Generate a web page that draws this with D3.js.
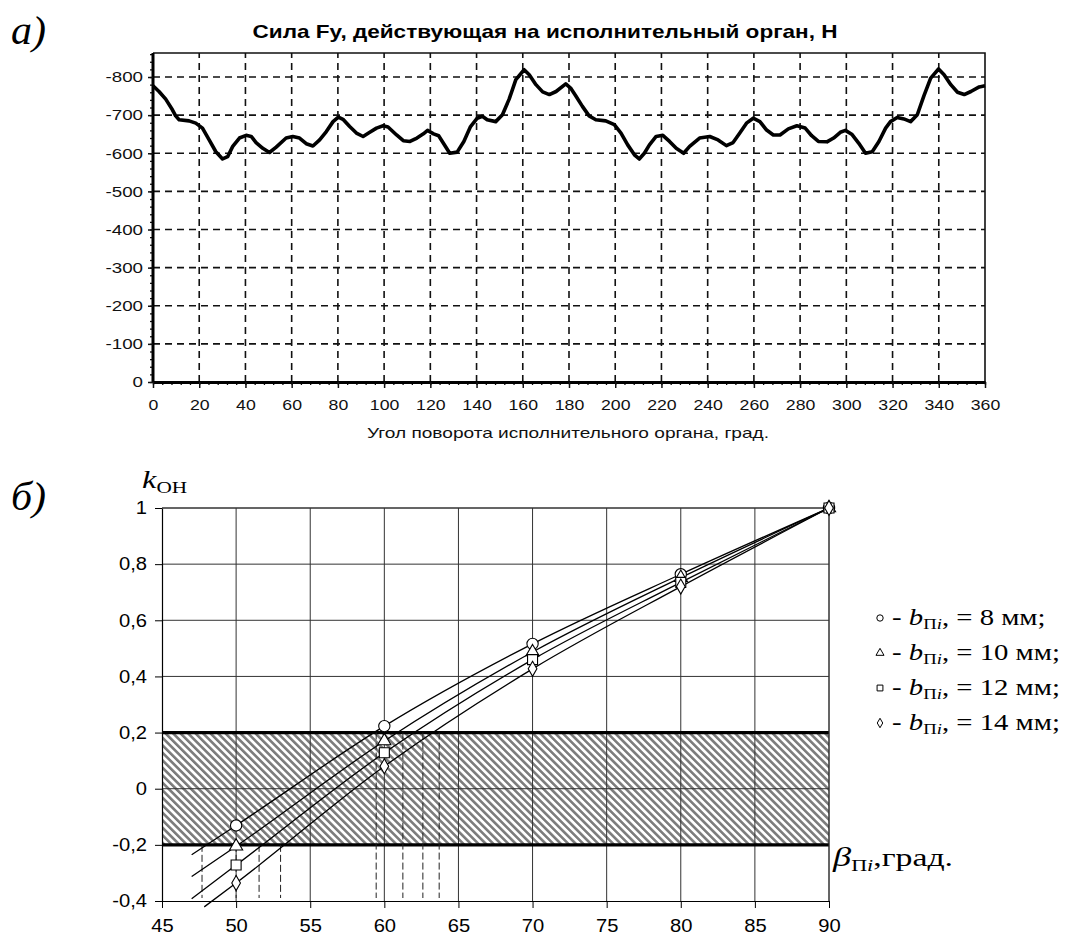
<!DOCTYPE html>
<html>
<head>
<meta charset="utf-8">
<script src="https://cdn.jsdelivr.net/npm/d3@7"></script>
<style>
  body { margin: 0; background: #fff; }
</style>
</head>
<body>
<script>
// ---- chart а): force Fy vs rotation angle
const angleA = [0, 2.6, 5.5, 8.4, 9.8, 11.3, 15.6, 18.5, 21.4, 24.3, 27.2, 30.1, 32.3, 34.5, 37.4, 40.3, 42.5, 44.6,
  47.5, 50.4, 53.3, 57.6, 60.5, 63.4, 66.3, 69.2, 72.1, 75, 77.9, 80.2, 82.2, 85.1, 88, 90.9, 93.8, 96.7, 99.6, 101.7,
  105.4, 108.3, 111.2, 114.2, 117, 118.8, 121.4, 123.6, 125.8, 128.4, 131.6, 134.5, 137.4, 140.3, 142.5, 144.6, 148.3,
  151.2, 154.1, 157, 160.6, 162.8, 165.7, 168.6, 171.5, 174.4, 178.6, 180.7, 182.9, 185.8, 188.7, 191.6, 195.9, 199.6,
  202.5, 205.4, 208.3, 210.4, 212.6, 214.8, 217.7, 220.6, 223.5, 226.4, 229.6, 232.2, 236.5, 240.9, 244.5, 248.1, 251,
  253.9, 256.8, 259.7, 262.6, 265.5, 268.4, 271.3, 274.9, 278.6, 282.2, 285, 287.9, 291.6, 294.5, 297.4, 299.6, 302.5,
  305.4, 308.3, 311.2, 314.1, 317, 319.1, 322, 324.9, 327.8, 330.7, 333.6, 336.5, 339.9, 342.3, 345.2, 348.1, 351,
  353.9, 357.5, 360];
const forceA = [-777, -762, -742, -714, -698, -688, -685, -679, -666, -635, -604, -585, -591, -618, -640, -647, -644, -628,
  -613, -602, -616, -640, -644, -640, -625, -619, -635, -657, -683, -695, -689, -670, -653, -644, -655, -666, -672, -669,
  -648, -633, -631, -640, -651, -660, -651, -646, -625, -600, -603, -631, -670, -692, -697, -688, -683,
  -701, -742, -793, -819, -806, -780, -761, -754, -762, -782, -771, -751, -723, -698, -688, -685, -675,
  -653, -622, -596, -585, -600, -622, -644, -647, -631, -613, -600, -618, -640, -644, -635, -620, -628,
  -653, -679, -692, -683, -661, -648, -648, -664, -672, -666, -646, -631, -630, -640, -655, -660, -649,
  -626, -600, -604, -631, -666, -683, -694, -690, -683, -701, -751, -797, -821, -806, -780, -760, -754,
  -762, -774, -777];
const forceTicks = [0, -100, -200, -300, -400, -500, -600, -700, -800];
const angleTicks = d3.range(0, 361, 20);

// ---- chart б): k_OH vs beta
const betaB = [50, 60, 70, 80, 90];
const k8 = [-0.131, 0.223, 0.516, 0.764, 1];
const k10 = [-0.205, 0.17, 0.487, 0.752, 1];
const k12 = [-0.272, 0.128, 0.46, 0.735, 1];
const k14 = [-0.336, 0.08, 0.427, 0.72, 1];
const widthsB = ['8', '10', '12', '14'];
const startBeta = [47, 47, 47, 47.85];
const startK = [-0.235, -0.313, -0.392, -0.421];
const lowCross = [47.7, 50.0, 51.55, 53.0];
const highCross = [59.45, 61.25, 62.6, 63.7];
const kTicks = [-0.4, -0.2, 0, 0.2, 0.4, 0.6, 0.8, 1];
const betaTicks = d3.range(45, 91, 5);
const band = [-0.2, 0.2];

const svg = d3.select('body').append('svg')
  .attr('width', 1070).attr('height', 937);

const sans = 'Liberation Sans, Arial, sans-serif';
const serif = 'Liberation Serif, Times New Roman, serif';

// the source picture is a bit wider than tall: widen text to match
function stretch(sel, k) {
  sel.each(function() {
    const w = this.getComputedTextLength();
    d3.select(this).attr('textLength', w * k).attr('lengthAdjust', 'spacingAndGlyphs');
  });
}
// text group placed at (x,y) and scaled horizontally
function wideText(parent, x, y, k) {
  return parent.append('g').attr('transform', `translate(${x},${y}) scale(${k},1)`).append('text');
}

// ================= chart а =================
const xA = d3.scaleLinear().domain([0, 360]).range([153, 985]);
const yA = d3.scaleLinear().domain([0, -863]).range([382, 53]);
const ga = svg.append('g');

wideText(ga, 11, 44, 1.05)
  .attr('font-family', serif).attr('font-style', 'italic').attr('font-size', 40)
  .text('а)');

ga.append('text').attr('x', 545).attr('y', 38).attr('text-anchor', 'middle')
  .attr('font-family', sans).attr('font-weight', 'bold').attr('font-size', 19)
  .attr('textLength', 585).attr('lengthAdjust', 'spacingAndGlyphs')
  .text('Сила Fy, действующая на исполнительный орган, Н');

// dashed grid
ga.append('g').selectAll('line').data(angleTicks.filter(d => d > 0 && d < 360)).join('line')
  .attr('x1', d => xA(d)).attr('x2', d => xA(d))
  .attr('y1', yA(0)).attr('y2', yA.range()[1])
  .attr('stroke', '#111').attr('stroke-width', 1.6).attr('stroke-dasharray', '7,5');
ga.append('g').selectAll('line').data(forceTicks.filter(d => d < 0)).join('line')
  .attr('x1', xA(0)).attr('x2', xA(360))
  .attr('y1', d => yA(d)).attr('y2', d => yA(d))
  .attr('stroke', '#111').attr('stroke-width', 1.6).attr('stroke-dasharray', '7,5');

// top and right frame
ga.append('path')
  .attr('d', `M${xA(0)},${yA.range()[1]}H${xA(360)}V${yA(0)}`)
  .attr('fill', 'none').attr('stroke', '#111').attr('stroke-width', 1.6);

// minor ticks
ga.append('g').attr('transform', `translate(0,${yA(0)})`)
  .call(d3.axisBottom(xA).tickValues(d3.range(0, 361, 4)).tickSize(3).tickSizeOuter(0).tickFormat(''))
  .call(g => g.select('.domain').remove())
  .selectAll('line').attr('stroke', '#111').attr('stroke-width', 1.3);
ga.append('g').attr('transform', `translate(${xA(0)},0)`)
  .call(d3.axisLeft(yA).tickValues(d3.range(0, -861, -20)).tickSize(3).tickSizeOuter(0).tickFormat(''))
  .call(g => g.select('.domain').remove())
  .selectAll('line').attr('stroke', '#111').attr('stroke-width', 1.3);

// main axes
const axA = ga.append('g').attr('transform', `translate(0,${yA(0)})`)
  .call(d3.axisBottom(xA).tickValues(angleTicks).tickSize(6).tickSizeOuter(0).tickPadding(11).tickFormat(d => d));
const ayA = ga.append('g').attr('transform', `translate(${xA(0)},0)`)
  .call(d3.axisLeft(yA).tickValues(forceTicks).tickSize(5).tickSizeOuter(0).tickPadding(5).tickFormat(d => String(d)));
[axA, ayA].forEach(g => {
  g.select('.domain').attr('stroke', '#000').attr('stroke-width', 3);
  g.selectAll('.tick line').attr('stroke', '#111').attr('stroke-width', 1.5);
  g.selectAll('text').attr('font-family', sans).attr('font-size', 15).attr('fill', '#111');
});
ayA.select('.domain').attr('d', `M0,${yA(0)}V${yA.range()[1]}`);
axA.selectAll('text').call(stretch, 1.18);
ayA.selectAll('text').call(stretch, 1.25);

ga.append('text').attr('x', 568).attr('y', 438).attr('text-anchor', 'middle')
  .attr('font-family', sans).attr('font-size', 15).attr('fill', '#111')
  .attr('textLength', 402).attr('lengthAdjust', 'spacingAndGlyphs')
  .text('Угол поворота исполнительного органа, град.');

ga.append('path')
  .datum(angleA.map((a, i) => [a, forceA[i]]))
  .attr('d', d3.line().x(d => xA(d[0])).y(d => yA(d[1])))
  .attr('fill', 'none').attr('stroke', '#000').attr('stroke-width', 3.6)
  .attr('stroke-linejoin', 'round');

// ================= chart б =================
const xB = d3.scaleLinear().domain([45, 90]).range([162, 829]);
const yB = d3.scaleLinear().domain([-0.4, 1]).range([901, 508]);
const gb = svg.append('g');

const defs = svg.append('defs');
const pat = defs.append('pattern').attr('id', 'hatch')
  .attr('patternUnits', 'userSpaceOnUse').attr('width', 5.3).attr('height', 5.3)
  .attr('patternTransform', 'rotate(-45)');
pat.append('rect').attr('width', 5.3).attr('height', 5.3).attr('fill', '#fff');
pat.append('rect').attr('width', 2.6).attr('height', 5.3).attr('fill', '#7c7c7c');

wideText(gb, 11, 510, 1.05)
  .attr('font-family', serif).attr('font-style', 'italic').attr('font-size', 40)
  .text('б)');

const kl = wideText(gb, 142, 488, 1.25).attr('font-family', serif).attr('font-size', 26);
kl.append('tspan').attr('font-style', 'italic').text('k');
kl.append('tspan').attr('font-size', 17).attr('dy', 5).text('OH');

// hatched band
gb.append('rect')
  .attr('x', xB(45)).attr('width', xB(90) - xB(45))
  .attr('y', yB(band[1])).attr('height', yB(band[0]) - yB(band[1]))
  .attr('fill', 'url(#hatch)');

// grid
gb.append('g').selectAll('line').data(betaTicks.filter(d => d > 45)).join('line')
  .attr('x1', d => xB(d)).attr('x2', d => xB(d))
  .attr('y1', yB(-0.4)).attr('y2', yB(1))
  .attr('stroke', '#333').attr('stroke-width', 1);
gb.append('g').selectAll('line').data(kTicks.filter(d => d > -0.4 && band.indexOf(d) < 0)).join('line')
  .attr('x1', xB(45)).attr('x2', xB(90))
  .attr('y1', d => yB(d)).attr('y2', d => yB(d))
  .attr('stroke', '#333').attr('stroke-width', 1);

// band limits
gb.append('g').selectAll('line').data(band).join('line')
  .attr('x1', xB(45)).attr('x2', xB(90))
  .attr('y1', d => yB(d)).attr('y2', d => yB(d))
  .attr('stroke', '#000').attr('stroke-width', 3.2);

// dashed drop lines at the crossings
gb.append('g').selectAll('line').data(lowCross).join('line')
  .attr('x1', d => xB(d)).attr('x2', d => xB(d))
  .attr('y1', yB(-0.2)).attr('y2', yB(-0.4) - 3)
  .attr('stroke', '#222').attr('stroke-width', 1).attr('stroke-dasharray', '7,3');
gb.append('g').selectAll('line').data(highCross).join('line')
  .attr('x1', d => xB(d)).attr('x2', d => xB(d))
  .attr('y1', yB(0.2)).attr('y2', yB(-0.4) - 3)
  .attr('stroke', '#222').attr('stroke-width', 1).attr('stroke-dasharray', '7,3');

// axes
const axB = gb.append('g').attr('transform', `translate(0,${yB(-0.4)})`)
  .call(d3.axisBottom(xB).tickValues(betaTicks).tickSize(7).tickSizeOuter(0).tickPadding(11).tickFormat(d => d));
const ayB = gb.append('g').attr('transform', `translate(${xB(45)},0)`)
  .call(d3.axisLeft(yB).tickValues(kTicks).tickSize(7).tickSizeOuter(0).tickPadding(8)
    .tickFormat(d => String(d).replace('.', ',')));
[axB, ayB].forEach(g => {
  g.select('.domain').attr('stroke', '#000').attr('stroke-width', 1.2);
  g.selectAll('.tick line').attr('stroke', '#000');
  g.selectAll('text').attr('font-family', sans).attr('font-size', 18).attr('fill', '#000');
});
axB.selectAll('text').call(stretch, 1.12);
ayB.selectAll('text').call(stretch, 1.12);
// top and right border
gb.append('path')
  .attr('d', `M${xB(45)},${yB(1)}H${xB(90)}V${yB(-0.4)}`)
  .attr('fill', 'none').attr('stroke', '#333').attr('stroke-width', 1);

// curves and markers
const seriesK = [k8, k10, k12, k14];
const symbols = [d3.symbolCircle, d3.symbolTriangle, d3.symbolSquare, d3.symbolDiamond];
const symSize = [100, 75, 100, 65];
const symSmall = [32, 28, 34, 26];
const curve = d3.line().x(d => xB(d[0])).y(d => yB(d[1])).curve(d3.curveMonotoneX);

seriesK.forEach((ks, i) => {
  const pts = [[startBeta[i], startK[i]]].concat(betaB.map((b, j) => [b, ks[j]]));
  gb.append('path').datum(pts).attr('d', curve)
    .attr('fill', 'none').attr('stroke', '#000').attr('stroke-width', 1.3);
});
seriesK.forEach((ks, i) => {
  gb.append('g').selectAll('path').data(betaB.map((b, j) => [b, ks[j]])).join('path')
    .attr('transform', d => `translate(${xB(d[0])},${yB(d[1])})`)
    .attr('d', d3.symbol().type(symbols[i]).size(symSize[i]))
    .attr('fill', '#fff').attr('stroke', '#000').attr('stroke-width', 1.1);
});

// legend
const lg = gb.append('g');
widthsB.forEach((w, i) => {
  const cy = 618 + i * 35;
  lg.append('path').attr('transform', `translate(880,${cy})`)
    .attr('d', d3.symbol().type(symbols[i]).size(symSmall[i]))
    .attr('fill', '#fff').attr('stroke', '#000').attr('stroke-width', 1);
  const t = wideText(lg, 892, cy + 7, 1.25)
    .attr('font-family', serif).attr('font-size', 23);
  t.append('tspan').text('- ');
  t.append('tspan').attr('font-style', 'italic').text('b');
  t.append('tspan').attr('font-size', 15).attr('dy', 4).text('П');
  t.append('tspan').attr('font-size', 15).attr('font-style', 'italic').text('i');
  t.append('tspan').attr('dy', -4).text(', = ' + w + ' мм;');
});

const bl = wideText(gb, 833, 866, 1.3).attr('font-family', serif).attr('font-size', 28);
bl.append('tspan').attr('font-style', 'italic').text('β');
bl.append('tspan').attr('font-size', 17).attr('dy', 5).text('П');
bl.append('tspan').attr('font-size', 17).attr('font-style', 'italic').text('i');
bl.append('tspan').attr('dy', -5).attr('font-size', 26).text(',град.');
</script>
</body>
</html>
